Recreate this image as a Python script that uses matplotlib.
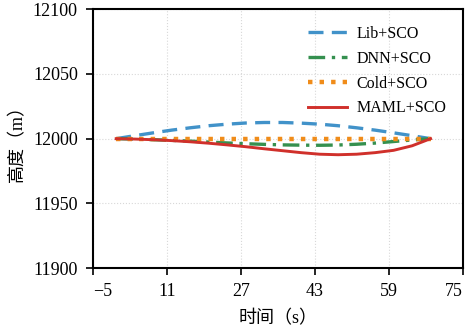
import matplotlib
matplotlib.use("Agg")
import matplotlib.pyplot as plt

plt.rcParams['font.family'] = ['Liberation Serif', 'Noto Sans CJK SC', 'DejaVu Sans']
plt.rcParams['axes.unicode_minus'] = True

t = [0, 4, 8, 12, 16, 20, 24, 28, 32, 36, 40, 44, 48, 52, 56, 60, 64, 68]
lib_sco = [12000.0, 12002.3, 12004.5, 12006.6, 12008.4, 12010.0, 12011.2, 12012.1, 12012.5,
           12012.5, 12012.0, 12011.2, 12010.0, 12008.4, 12006.6, 12004.5, 12002.3, 12000.0]
dnn_sco = [12000.0, 11999.7, 11999.2, 11998.7, 11998.1, 11997.4, 11996.7, 11996.1, 11995.6,
           11995.2, 11995.0, 11994.9, 11995.1, 11995.7, 11996.6, 11997.8, 11999.0, 12000.0]
cold_sco = [12000.0] * len(t)
maml_sco = [12000.0, 11999.7, 11999.2, 11998.5, 11997.6, 11996.5, 11995.2, 11993.8, 11992.2,
            11990.7, 11989.2, 11988.0, 11987.6, 11988.0, 11989.2, 11991.0, 11994.5, 12000.0]

labels = ['Lib+SCO', 'DNN+SCO', 'Cold+SCO', 'MAML+SCO']
xticks = [-5, 11, 27, 43, 59, 75]
yticks = [11900, 11950, 12000, 12050, 12100]

fig = plt.figure(figsize=(4.7, 3.29), dpi=100)
ax = fig.add_axes([0.198, 0.185, 0.787, 0.787])

ax.plot(t, lib_sco, color='#4192c9', lw=2.4, linestyle=(0, (4.5, 2.5)), label=labels[0])
ax.plot(t, dnn_sco, color='#35904f', lw=2.4, linestyle=(0, (5, 2, 1, 2)), label=labels[1])
ax.plot(t, cold_sco, color='#f08c1a', lw=3.2, linestyle=(0, (1, 1.6)), label=labels[2])
ax.plot(t, maml_sco, color='#d0302b', lw=2.1, linestyle='-', label=labels[3])

ax.set_xlim(-5, 75)
ax.set_ylim(11900, 12100)
ax.set_xticks(xticks)
ax.set_yticks(yticks)
ax.tick_params(direction='out', length=5, width=1.2, labelsize=13, colors='black', pad=6)
xl = ax.get_xticklabels()
xl[0].set_horizontalalignment('left')
xl[-1].set_horizontalalignment('right')
ax.grid(True, color='#d8d8d8', linestyle=':', linewidth=0.8)
for s in ax.spines.values():
    s.set_linewidth(1.5)

ax.set_xlabel('时间（s）', fontsize=13, labelpad=7)
ax.set_ylabel('高度（m）', fontsize=13, labelpad=5)

leg = ax.legend(loc='upper right', frameon=False, fontsize=11.5, handlelength=2.4,
                labelspacing=0.55, borderaxespad=0.65, handletextpad=0.6)

fig.savefig('out.png', dpi=100)
